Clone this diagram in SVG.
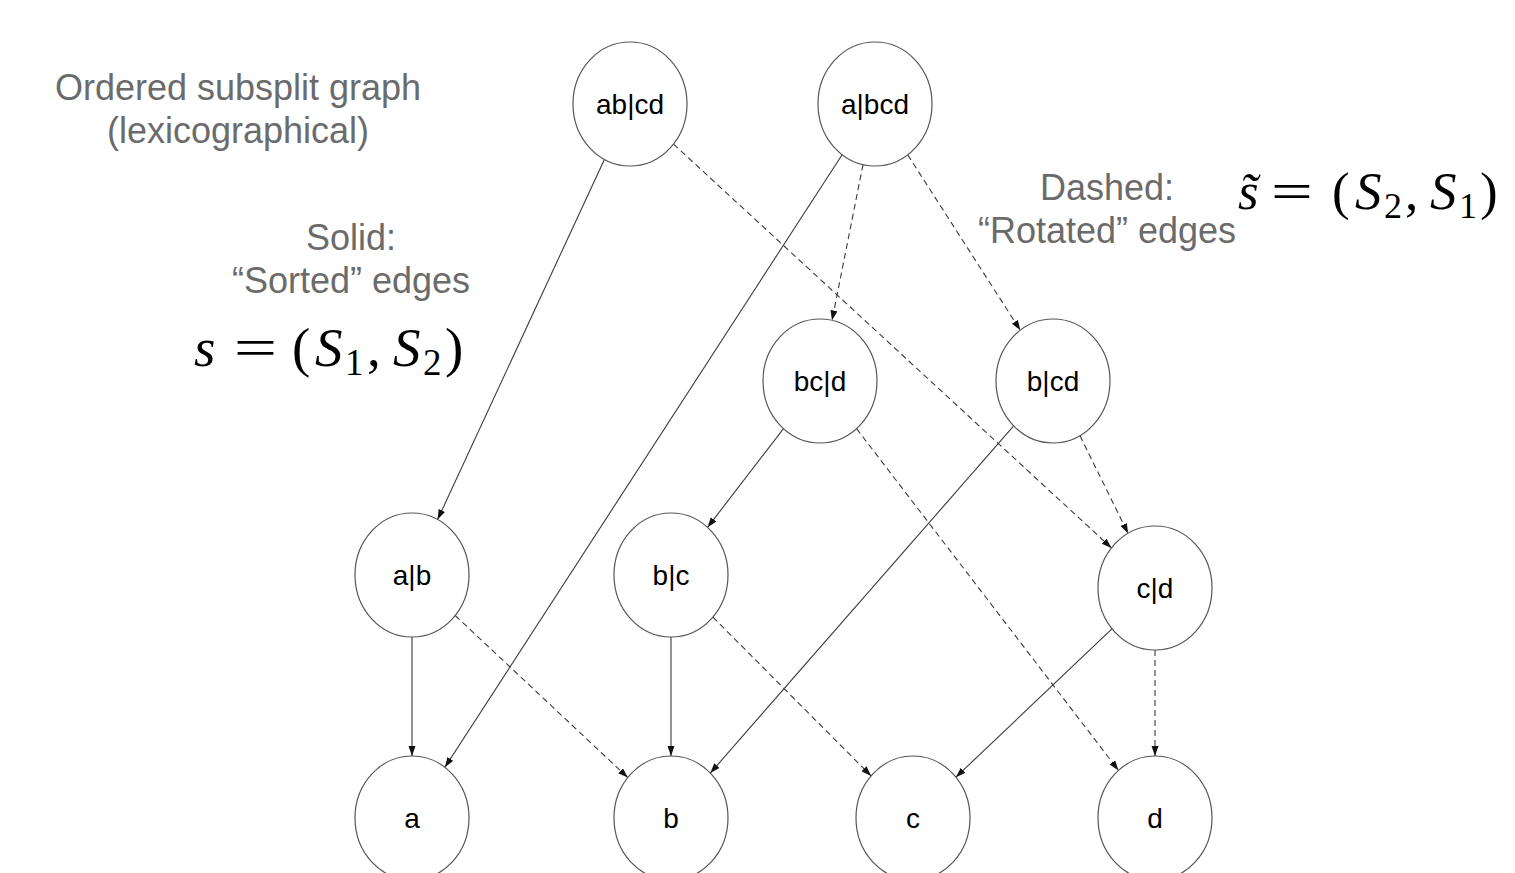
<svg xmlns="http://www.w3.org/2000/svg" width="1515" height="873" viewBox="0 0 1515 873">
  <style>
    .node ellipse { fill: #ffffff; stroke: #555555; stroke-width: 1.2; }
    .node text { font-family: "Liberation Sans", Arial, sans-serif; font-size: 28px; fill: #000000; text-anchor: middle; }
    .edge { fill: none; stroke: #3a3a3a; stroke-width: 1.1; marker-end: url(#arrow); }
    .dashed { stroke-dasharray: 6 4; }
    .note { font-family: "Liberation Sans", Arial, sans-serif; font-size: 36px; fill: #6b6b6b; text-anchor: middle; }
    .math { font-family: "Liberation Serif", "DejaVu Serif", serif; fill: #000000; }
    .mi { font-style: italic; }
    .mid { text-anchor: middle; }
  </style>
  <defs>
    <marker id="arrow" markerUnits="userSpaceOnUse" markerWidth="10" markerHeight="8" refX="10" refY="3.5" orient="auto">
      <path d="M0,0 L10,3.5 L0,7 z" fill="#111111"/>
    </marker>
  </defs>

  <rect width="1515" height="873" fill="#ffffff"/>

  <!-- captions -->
  <g id="caption-graph">
    <text class="note" x="238" y="100">Ordered subsplit graph</text>
    <text class="note" x="238" y="143">(lexicographical)</text>
  </g>
  <g id="caption-solid">
    <text class="note" x="351" y="250">Solid:</text>
    <text class="note" x="351" y="293">“Sorted” edges</text>
  </g>
  <g id="caption-dashed">
    <text class="note" x="1107" y="200">Dashed:</text>
    <text class="note" x="1107" y="243">“Rotated” edges</text>
  </g>

  <!-- s = (S1, S2), laid out glyph by glyph -->
  <g id="formula-sorted" class="math" font-size="55">
    <text class="mi" x="194" y="366">s</text>
    <text class="mid" transform="translate(255.5,366) scale(1.4,1)">=</text>
    <text x="292" y="366">(</text>
    <text class="mi" x="315" y="366">S</text>
    <text x="345" y="375" font-size="37">1</text>
    <text x="367" y="366">,</text>
    <text class="mi" x="393" y="366">S</text>
    <text x="423" y="375" font-size="37">2</text>
    <text x="445" y="366">)</text>
  </g>

  <!-- s~ = (S2, S1) -->
  <g id="formula-rotated" class="math" font-size="53">
    <text class="mi" x="1238" y="209">s̃</text>
    <text class="mid" transform="translate(1292,209) scale(1.4,1)">=</text>
    <text x="1332" y="209">(</text>
    <text class="mi" x="1355" y="209">S</text>
    <text x="1384" y="218" font-size="36">2</text>
    <text x="1405" y="209">,</text>
    <text class="mi" x="1430" y="209">S</text>
    <text x="1459" y="218" font-size="36">1</text>
    <text x="1480" y="209">)</text>
  </g>

  <!-- connectors: straight lines between node centres, clipped to the ellipses -->
  <g id="edges">
    <!-- sorted (solid) -->
    <line class="edge" x1="604.4" y1="159.4" x2="437.6" y2="519.6"/>
    <line class="edge" x1="842.1" y1="154.7" x2="444.9" y2="767.3"/>
    <line class="edge" x1="783.5" y1="428.6" x2="707.5" y2="527.4"/>
    <line class="edge" x1="1013.7" y1="425.9" x2="710.3" y2="773.1"/>
    <line class="edge" x1="412" y1="637" x2="412" y2="756"/>
    <line class="edge" x1="671" y1="637" x2="671" y2="756"/>
    <line class="edge" x1="1112.2" y1="628.7" x2="955.9" y2="777.2"/>
    <!-- rotated (dashed) -->
    <line class="edge dashed" x1="673.5" y1="144.1" x2="1111.5" y2="547.9"/>
    <line class="edge dashed" x1="863" y1="164.6" x2="832" y2="320.4"/>
    <line class="edge dashed" x1="907.7" y1="154.8" x2="1020.3" y2="330.2"/>
    <line class="edge dashed" x1="856.5" y1="428.6" x2="1118.5" y2="770.4"/>
    <line class="edge dashed" x1="1079.9" y1="435.6" x2="1128.1" y2="533.4"/>
    <line class="edge dashed" x1="455.2" y1="615.5" x2="627.8" y2="777.5"/>
    <line class="edge dashed" x1="712.9" y1="617.1" x2="871.1" y2="775.9"/>
    <line class="edge dashed" x1="1155" y1="650" x2="1155" y2="756"/>
  </g>

  <!-- nodes -->
  <g id="node-ab-cd" class="node"><ellipse cx="630" cy="104" rx="57" ry="62"/><text x="630" y="114">ab|cd</text></g>
  <g id="node-a-bcd" class="node"><ellipse cx="875" cy="104" rx="57" ry="62"/><text x="875" y="114">a|bcd</text></g>
  <g id="node-bc-d" class="node"><ellipse cx="820" cy="381" rx="57" ry="62"/><text x="820" y="391">bc|d</text></g>
  <g id="node-b-cd" class="node"><ellipse cx="1053" cy="381" rx="57" ry="62"/><text x="1053" y="391">b|cd</text></g>
  <g id="node-a-b" class="node"><ellipse cx="412" cy="575" rx="57" ry="62"/><text x="412" y="585">a|b</text></g>
  <g id="node-b-c" class="node"><ellipse cx="671" cy="575" rx="57" ry="62"/><text x="671" y="585">b|c</text></g>
  <g id="node-c-d" class="node"><ellipse cx="1155" cy="588" rx="57" ry="62"/><text x="1155" y="598">c|d</text></g>
  <g id="node-a" class="node"><ellipse cx="412" cy="818" rx="57" ry="62"/><text x="412" y="828">a</text></g>
  <g id="node-b" class="node"><ellipse cx="671" cy="818" rx="57" ry="62"/><text x="671" y="828">b</text></g>
  <g id="node-c" class="node"><ellipse cx="913" cy="818" rx="57" ry="62"/><text x="913" y="828">c</text></g>
  <g id="node-d" class="node"><ellipse cx="1155" cy="818" rx="57" ry="62"/><text x="1155" y="828">d</text></g>
</svg>
